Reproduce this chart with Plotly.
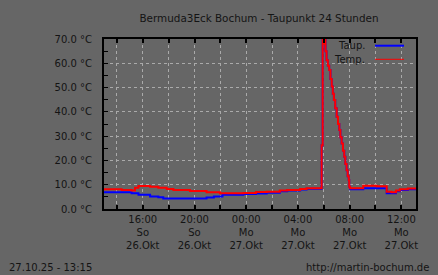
import plotly.graph_objects as go
import pandas as pd

title = "Bermuda3Eck Bochum - Taupunkt 24 Stunden"
stamp = "27.10.25 - 13:15"
url = "http://martin-bochum.de"

temp_times = ["2025-10-26 13:00", "2025-10-26 14:22", "2025-10-26 15:08", "2025-10-26 15:24", "2025-10-26 15:40",
              "2025-10-26 16:34", "2025-10-26 17:12", "2025-10-26 17:51", "2025-10-26 18:22", "2025-10-26 19:39",
              "2025-10-26 20:56", "2025-10-26 21:58", "2025-10-26 23:47", "2025-10-27 00:45", "2025-10-27 01:35",
              "2025-10-27 02:36", "2025-10-27 03:10", "2025-10-27 04:10", "2025-10-27 04:40", "2025-10-27 05:50",
              "2025-10-27 05:55", "2025-10-27 06:00", "2025-10-27 06:03", "2025-10-27 06:08", "2025-10-27 06:13",
              "2025-10-27 06:19", "2025-10-27 06:25", "2025-10-27 06:31", "2025-10-27 06:37", "2025-10-27 06:42",
              "2025-10-27 06:47", "2025-10-27 06:53", "2025-10-27 07:00", "2025-10-27 07:06", "2025-10-27 07:12",
              "2025-10-27 07:17", "2025-10-27 07:23", "2025-10-27 07:29", "2025-10-27 07:35", "2025-10-27 07:40",
              "2025-10-27 07:46", "2025-10-27 07:51", "2025-10-27 07:56", "2025-10-27 07:58", "2025-10-27 08:02",
              "2025-10-27 09:03", "2025-10-27 10:05", "2025-10-27 10:52", "2025-10-27 11:15", "2025-10-27 11:35",
              "2025-10-27 11:53", "2025-10-27 12:30", "2025-10-27 13:10"]
temp_vals = [8.1, 7.8, 7.6, 8.7, 9.5,
             9.2, 8.7, 8.2, 7.8, 7.4,
             6.9, 6.5, 6.6, 7.0, 7.1,
             7.6, 7.8, 8.2, 8.5, 26.3,
             72.0, 68.0, 70.0, 65.0, 61.3,
             59.0, 57.2, 53.5, 50.4, 47.5,
             44.9, 41.5, 38.0, 35.0, 32.5,
             29.5, 27.0, 24.0, 21.5, 18.5,
             16.0, 13.5, 11.9, 9.2, 8.5,
             9.6, 9.4, 7.1, 6.9, 7.6,
             8.1, 8.4, 8.4]

dew_times = ["2025-10-26 13:00", "2025-10-26 15:08", "2025-10-26 15:40", "2025-10-26 16:34", "2025-10-26 17:12",
             "2025-10-26 17:35", "2025-10-26 20:56", "2025-10-26 21:30", "2025-10-26 22:10", "2025-10-26 23:47",
             "2025-10-27 00:45", "2025-10-27 01:35", "2025-10-27 02:36", "2025-10-27 03:10", "2025-10-27 04:10",
             "2025-10-27 04:40", "2025-10-27 05:50", "2025-10-27 05:55", "2025-10-27 06:00", "2025-10-27 06:03",
             "2025-10-27 06:08", "2025-10-27 06:13", "2025-10-27 06:19", "2025-10-27 06:25", "2025-10-27 06:31",
             "2025-10-27 06:37", "2025-10-27 06:42", "2025-10-27 06:47", "2025-10-27 06:53", "2025-10-27 07:00",
             "2025-10-27 07:06", "2025-10-27 07:12", "2025-10-27 07:17", "2025-10-27 07:23", "2025-10-27 07:29",
             "2025-10-27 07:35", "2025-10-27 07:40", "2025-10-27 07:46", "2025-10-27 07:51", "2025-10-27 07:56",
             "2025-10-27 07:58", "2025-10-27 08:02", "2025-10-27 09:03", "2025-10-27 10:05", "2025-10-27 10:52",
             "2025-10-27 11:35", "2025-10-27 11:53", "2025-10-27 12:30", "2025-10-27 13:10"]
dew_vals = [6.9, 6.5, 5.9, 5.1, 4.8,
            4.3, 4.7, 5.1, 5.9, 6.2,
            6.4, 6.7, 7.3, 7.6, 8.0,
            8.3, 26.3, 72.0, 68.0, 70.0,
            65.0, 61.3, 59.0, 57.2, 53.5,
            50.4, 47.5, 44.9, 41.5, 38.0,
            35.0, 32.5, 29.5, 27.0, 24.0,
            21.5, 18.5, 16.0, 13.5, 11.9,
            9.2, 8.1, 8.5, 8.5, 6.45,
            7.3, 7.8, 8.1, 8.1]

x_ticks = pd.date_range("2025-10-26 14:00", "2025-10-27 12:00", freq="2h")
x_labels = ["", "16:00<br>So<br>26.Okt", "", "20:00<br>So<br>26.Okt", "", "00:00<br>Mo<br>27.Okt", "",
            "04:00<br>Mo<br>27.Okt", "", "08:00<br>Mo<br>27.Okt", "", "12:00<br>Mo<br>27.Okt"]
y_ticks = [0, 10, 20, 30, 40, 50, 60, 70]
y_labels = [f"{v:.1f} °C" for v in y_ticks]

BG = "#666666"
TXT = "#141414"
GRID = "#aaaaaa"
FONT = "DejaVu Sans"

fig = go.Figure()
fig.add_trace(go.Scatter(x=pd.to_datetime(dew_times), y=dew_vals, mode="lines", line_shape="hv",
                         line=dict(color="#0000ff", width=2), name="Taup.", showlegend=False))
fig.add_trace(go.Scatter(x=pd.to_datetime(temp_times), y=temp_vals, mode="lines", line_shape="hv",
                         line=dict(color="#ff0000", width=2), name="Temp.", showlegend=False))

fig.update_layout(
    width=438, height=275,
    margin=dict(l=104, r=22, t=39, b=66),
    paper_bgcolor=BG, plot_bgcolor=BG,
    font=dict(family=FONT, size=10, color=TXT),
    title=dict(text=title, x=259 / 438, xanchor="center", y=1 - 18 / 275, yanchor="middle",
               yref="container", font=dict(family=FONT, size=10.4, color=TXT)),
    showlegend=False,
)
fig.update_xaxes(
    range=[pd.Timestamp("2025-10-26 13:00"), pd.Timestamp("2025-10-27 13:08")],
    tickmode="array", tickvals=x_ticks, ticktext=x_labels,
    showgrid=True, gridcolor=GRID, griddash="3px,3px", gridwidth=1,
    ticks="inside", ticklen=4, tickcolor="black", tickwidth=2,
    showline=True, linecolor="black", linewidth=2, mirror="allticks",
    zeroline=False, tickfont=dict(family=FONT, size=10, color=TXT),
)
fig.update_yaxes(
    range=[0, 70], tickmode="array", tickvals=y_ticks, ticktext=y_labels,
    showgrid=True, gridcolor=GRID, griddash="3px,3px", gridwidth=1,
    ticks="inside", ticklen=4, tickcolor="black", tickwidth=1,
    minor=dict(dtick=5, ticks="inside", ticklen=4, tickcolor="black", showgrid=False),
    showline=True, linecolor="black", linewidth=2, mirror=True,
    zeroline=False, tickfont=dict(family=FONT, size=10, color=TXT), ticklabelstandoff=8,
)

# legend drawn inside plot (text left of line sample)
fig.add_annotation(x=(367 - 104) / 312, y=(209 - 46) / 170, xref="paper", yref="paper", text="Taup.",
                   showarrow=False, xanchor="right", yanchor="middle", font=dict(family=FONT, size=10, color=TXT))
fig.add_annotation(x=(367 - 104) / 312, y=(209 - 59.5) / 170, xref="paper", yref="paper", text="Temp.",
                   showarrow=False, xanchor="right", yanchor="middle", font=dict(family=FONT, size=10, color=TXT))
fig.add_shape(type="line", xref="paper", yref="paper", x0=(375 - 104) / 312, x1=(404 - 104) / 312,
              y0=(209 - 45.7) / 170, y1=(209 - 45.7) / 170, line=dict(color="#0000ff", width=2))
fig.add_shape(type="line", xref="paper", yref="paper", x0=(375 - 104) / 312, x1=(404 - 104) / 312,
              y0=(209 - 59.3) / 170, y1=(209 - 59.3) / 170, line=dict(color="#ff0000", width=1))

fig.add_annotation(x=(7 - 104) / 312, y=(209 - 267) / 170, xref="paper", yref="paper", text=stamp,
                   showarrow=False, xanchor="left", yanchor="middle", font=dict(family=FONT, size=10, color=TXT))
fig.add_annotation(x=(431 - 104) / 312, y=(209 - 267) / 170, xref="paper", yref="paper", text=url,
                   showarrow=False, xanchor="right", yanchor="middle", font=dict(family=FONT, size=10, color=TXT))

fig.write_html("out.html")
